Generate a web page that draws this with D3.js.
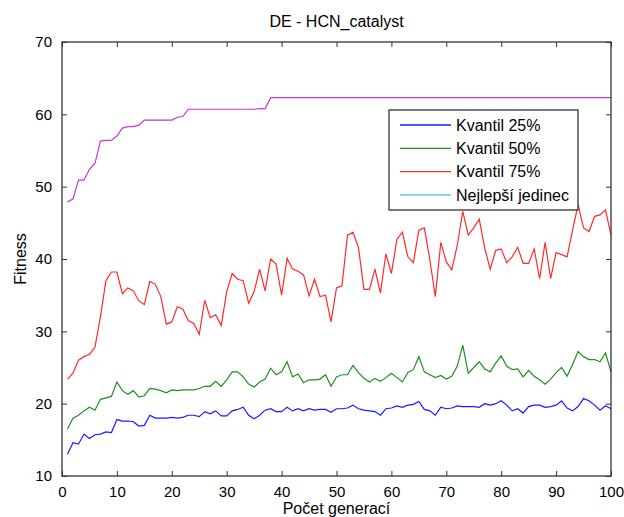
<!DOCTYPE html>
<html>
<head>
<meta charset="utf-8">
<script src="https://cdn.jsdelivr.net/npm/d3@7"></script>
<style>
  body { margin: 0; background: #fff; }
  svg text { font-family: "Liberation Sans", Arial, sans-serif; fill: #000; }
</style>
</head>
<body>
<div id="chart"></div>
<script>
// data, generations 1..100
var q25 = [13.0,14.6,14.4,15.8,15.2,15.7,15.8,16.1,16.0,17.8,
  17.6,17.6,17.5,16.9,17.0,18.4,18.0,18.0,18.0,18.1,
  18.0,18.1,18.4,18.4,18.2,18.9,18.6,19.0,18.3,18.3,
  19.0,19.2,19.5,18.4,17.9,18.4,19.1,19.3,18.9,18.9,
  19.5,19.0,19.3,19.0,19.3,19.1,19.2,19.2,18.8,19.3,
  19.3,19.4,19.8,19.3,19.1,19.0,18.9,18.4,19.3,19.4,
  19.7,19.5,19.8,19.9,20.3,19.2,19.0,18.4,19.5,19.3,
  19.4,19.7,19.6,19.6,19.6,19.5,20.0,19.8,20.0,20.4,
  19.8,19.0,19.3,18.7,19.6,19.8,19.8,19.5,19.6,19.8,
  20.4,19.4,19.0,19.6,20.7,20.4,19.8,19.1,19.7,19.3];

var q50 = [16.5,18.0,18.4,19.0,19.5,19.1,20.6,20.8,21.0,23.0,
  21.8,21.3,21.8,20.9,21.1,22.1,22.0,21.8,21.5,21.9,
  21.8,21.9,21.9,21.9,22.1,22.4,22.4,23.1,22.4,23.3,
  24.4,24.4,23.7,22.7,22.3,23.0,23.4,24.9,24.0,24.4,
  25.8,23.7,24.1,22.9,23.3,23.3,23.4,24.0,22.4,23.7,
  24.0,24.0,25.3,24.3,23.5,23.0,23.5,23.1,23.6,24.2,
  23.6,23.0,24.3,24.7,26.5,24.4,24.0,23.6,23.9,23.4,
  23.8,25.2,28.1,24.2,25.0,25.8,24.8,24.4,25.6,26.6,
  25.2,24.7,24.8,23.7,24.6,23.8,23.3,22.7,23.4,24.3,
  25.0,23.8,25.4,27.2,26.5,26.1,26.1,25.8,27.0,24.4];

var q75 = [23.4,24.2,26.0,26.5,26.8,27.8,32.0,37.0,38.2,38.2,
  35.2,36.0,35.6,34.2,33.7,36.9,36.5,34.8,31.0,31.3,
  33.4,33.1,31.5,31.1,29.6,34.3,31.9,32.3,30.8,35.5,
  38.0,37.2,37.0,33.9,35.5,38.6,35.6,40.0,39.3,35.0,
  40.1,38.6,38.3,37.8,34.9,37.2,34.8,35.0,31.3,36.0,
  36.3,43.3,43.7,41.6,35.8,35.8,38.6,35.3,40.7,38.0,
  42.7,43.7,40.3,39.5,44.0,44.3,39.9,34.8,42.3,39.6,
  38.5,41.9,46.6,43.3,44.3,45.5,41.5,38.6,41.2,41.4,
  39.5,40.3,41.6,39.4,39.4,41.4,37.3,42.3,37.3,40.9,
  40.6,40.3,44.0,47.5,44.3,43.8,45.9,46.1,46.8,43.3];

var best = [47.9,48.3,50.9,50.9,52.4,53.2,56.3,56.4,56.4,57.0,
  58.1,58.3,58.3,58.5,59.2,59.2,59.2,59.2,59.2,59.2,
  59.6,59.7,60.7,60.7,60.7,60.7,60.7,60.7,60.7,60.7,
  60.7,60.7,60.7,60.7,60.7,60.8,60.8,62.3,62.3,62.3,
  62.3,62.3,62.3,62.3,62.3,62.3,62.3,62.3,62.3,62.3,
  62.3,62.3,62.3,62.3,62.3,62.3,62.3,62.3,62.3,62.3,
  62.3,62.3,62.3,62.3,62.3,62.3,62.3,62.3,62.3,62.3,
  62.3,62.3,62.3,62.3,62.3,62.3,62.3,62.3,62.3,62.3,
  62.3,62.3,62.3,62.3,62.3,62.3,62.3,62.3,62.3,62.3,
  62.3,62.3,62.3,62.3,62.3,62.3,62.3,62.3,62.3,62.3];

var xTicks = [0,10,20,30,40,50,60,70,80,90,100];
var yTicks = [10,20,30,40,50,60,70];

var seriesNames = ["Kvantil 25%", "Kvantil 50%", "Kvantil 75%", "Nejlepší jedinec"];
var lineColors = ["#1a1aff", "#1f8f1f", "#ff2a2a", "#c936d9"];
var legendColors = ["#1a1aff", "#1f8f1f", "#ff2a2a", "#3cc8c8"];

var width = 624, height = 517;
var margin = {top: 42, right: 13, bottom: 41, left: 62};

var svg = d3.select("#chart").append("svg")
    .attr("width", width)
    .attr("height", height);

var x = d3.scaleLinear().domain([0, 100]).range([margin.left, width - margin.right]);
var y = d3.scaleLinear().domain([10, 70]).range([height - margin.bottom, margin.top]);

var line = d3.line()
    .x(function(d, i) { return x(i + 1); })
    .y(function(d) { return y(d); });

// lines
var data = [q25, q50, q75, best];
svg.append("g")
    .attr("fill", "none")
    .attr("stroke-width", 1.2)
  .selectAll("path")
  .data(data)
  .enter().append("path")
    .attr("d", line)
    .attr("stroke", function(d, i) { return lineColors[i]; });

// axes, MATLAB style: ticks inside, box around
var axisColor = "#333";
var tickLen = 5;

function styleAxis(g) {
  g.select(".domain").remove();
  g.selectAll(".tick line").attr("stroke", axisColor);
  g.selectAll(".tick text").attr("font-size", 15).attr("fill", "#000");
}

svg.append("g")
    .attr("transform", "translate(0," + y(10) + ")")
    .call(d3.axisBottom(x).tickValues(xTicks).tickSizeInner(-tickLen).tickSizeOuter(0).tickPadding(10))
    .call(styleAxis);

svg.append("g")
    .attr("transform", "translate(0," + y(70) + ")")
    .call(d3.axisTop(x).tickValues(xTicks).tickSizeInner(-tickLen).tickSizeOuter(0).tickFormat(""))
    .call(styleAxis);

svg.append("g")
    .attr("transform", "translate(" + x(0) + ",0)")
    .call(d3.axisLeft(y).tickValues(yTicks).tickSizeInner(-tickLen).tickSizeOuter(0).tickPadding(10))
    .call(styleAxis);

svg.append("g")
    .attr("transform", "translate(" + x(100) + ",0)")
    .call(d3.axisRight(y).tickValues(yTicks).tickSizeInner(-tickLen).tickSizeOuter(0).tickFormat(""))
    .call(styleAxis);

svg.append("rect")
    .attr("x", x(0))
    .attr("y", y(70))
    .attr("width", x(100) - x(0))
    .attr("height", y(10) - y(70))
    .attr("fill", "none")
    .attr("stroke", axisColor)
    .attr("stroke-width", 1.3);

// titles
svg.append("text")
    .attr("x", (x(0) + x(100)) / 2)
    .attr("y", 27)
    .attr("text-anchor", "middle")
    .attr("font-size", 16)
    .text("DE - HCN_catalyst");

svg.append("text")
    .attr("x", (x(0) + x(100)) / 2)
    .attr("y", 514)
    .attr("text-anchor", "middle")
    .attr("font-size", 16)
    .text("Počet generací");

svg.append("text")
    .attr("transform", "translate(26," + (y(40)) + ") rotate(-90)")
    .attr("text-anchor", "middle")
    .attr("font-size", 16)
    .text("Fitness");

// legend
var legend = svg.append("g").attr("transform", "translate(389,110)");
legend.append("rect")
    .attr("width", 189)
    .attr("height", 100)
    .attr("fill", "#fff")
    .attr("stroke", "#333")
    .attr("stroke-width", 1.3);

var item = legend.selectAll("g.item")
  .data(seriesNames)
  .enter().append("g")
    .attr("class", "item")
    .attr("transform", function(d, i) { return "translate(0," + (15 + i * 23.3) + ")"; });

item.append("line")
    .attr("x1", 11).attr("x2", 62)
    .attr("stroke-width", 1.3)
    .attr("stroke", function(d, i) { return legendColors[i]; });

item.append("text")
    .attr("x", 67)
    .attr("dy", "0.36em")
    .attr("font-size", 16)
    .text(function(d) { return d; });
</script>
</body>
</html>
